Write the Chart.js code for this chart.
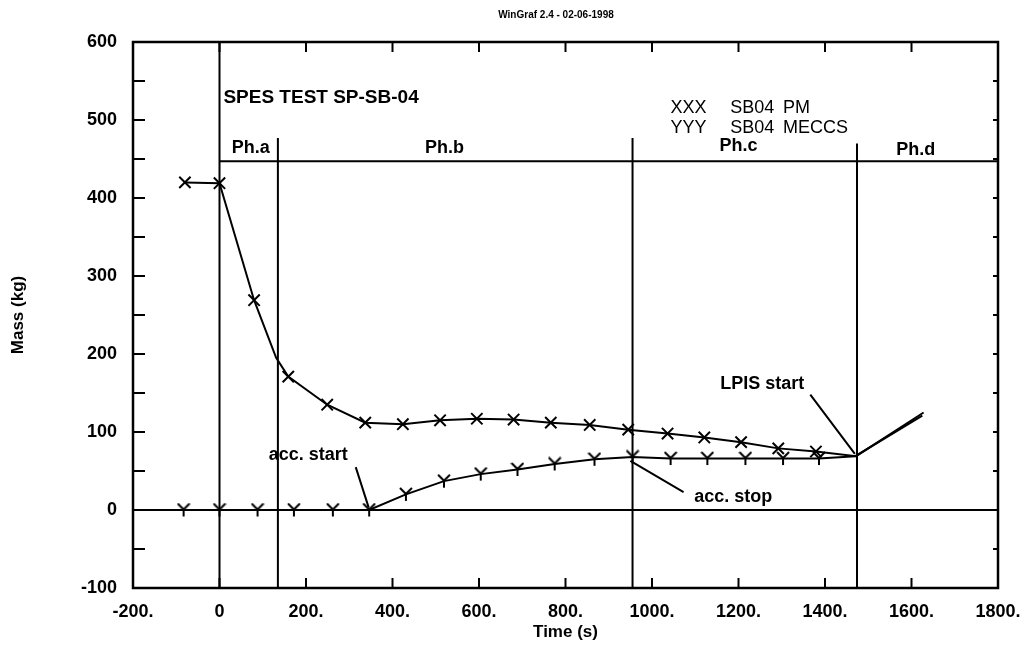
<!DOCTYPE html>
<html>
<head>
<meta charset="utf-8">
<script src="https://cdn.jsdelivr.net/npm/chart.js@4"></script>
<style>
  html, body { margin: 0; padding: 0; background: #fff; }
  #wrap { width: 1024px; height: 655px; }
</style>
</head>
<body>
<div id="wrap"><canvas id="massChart" width="1024" height="655"></canvas></div>
<script>
// SB04 PM (X markers)
const pmTime = [-80, 0, 80, 159, 249, 337, 424, 510, 595, 680, 766, 856, 945, 1036, 1121, 1206, 1292, 1379];
const pmMass = [420, 419, 269, 171, 135, 112, 110, 115, 117, 116, 112, 109, 103, 98, 93, 87, 79, 75];
// extra curve points of the PM line without marker
const pmKnotTime = [131, 1472, 1628];
const pmKnotMass = [195, 69, 125];

// SB04 MECCS (Y markers)
const meccsTime = [-83, 0, 88, 172, 262, 346, 431, 519, 604, 689, 775, 867, 955, 1043, 1128, 1216, 1303, 1386];
const meccsMass = [0, 0, 0, 0, 0, 0, 20, 37, 46, 52, 59, 65, 68, 66, 66, 66, 66, 66];
const meccsKnotTime = [1470, 1625];
const meccsKnotMass = [69, 121];

// axes
const xTicks = [-200, 0, 200, 400, 600, 800, 1000, 1200, 1400, 1600, 1800];
const yTicks = [-100, 0, 100, 200, 300, 400, 500, 600];

// phases
const phaseBounds = [0, 135, 955, 1474];
const phaseTopMass = [600, 477, 477, 470];
const phaseBarMass = 447;
const phaseNames = ['Ph.a', 'Ph.b', 'Ph.c', 'Ph.d'];
const phaseNameTime = [72, 520, 1200, 1610];
const phaseNameMass = [464, 464, 467, 461];

// annotations with leader lines
const noteText = ['acc. start', 'acc. stop', 'LPIS start'];
const noteTime = [205, 1188, 1255];
const noteMass = [70, 17, 161];
const leaderFrom = [[315, 55], [1073, 23], [1366, 148]];
const leaderTo = [[345, 3], [950, 63], [1469, 72]];

function toPoints(ts, ms) {
    return ts.map((t, i) => ({ x: t, y: ms[i] }));
}
function merged(ts, ms, kt, km) {
    return toPoints(ts.concat(kt), ms.concat(km)).sort((a, b) => a.x - b.x);
}

function makeYMarker() {
    const c = document.createElement('canvas');
    c.width = 14; c.height = 15;
    const g = c.getContext('2d');
    g.strokeStyle = '#000';
    g.lineWidth = 2;
    g.beginPath();
    g.moveTo(1, 1); g.lineTo(7, 7); g.lineTo(13, 1);
    g.moveTo(7, 7); g.lineTo(7, 14);
    g.stroke();
    return c;
}

const FONT = "'Liberation Sans', Arial, sans-serif";

const decorPlugin = {
    id: 'decor',
    beforeDatasetsDraw(chart) {
        const { ctx, chartArea: a, scales: { x, y } } = chart;
        ctx.save();
        ctx.strokeStyle = '#000';
        ctx.lineCap = 'butt';

        // zero line
        ctx.lineWidth = 2;
        ctx.beginPath();
        ctx.moveTo(a.left, y.getPixelForValue(0));
        ctx.lineTo(a.right, y.getPixelForValue(0));
        ctx.stroke();

        // phase bar + boundaries
        ctx.beginPath();
        ctx.moveTo(x.getPixelForValue(phaseBounds[0]), y.getPixelForValue(phaseBarMass));
        ctx.lineTo(a.right, y.getPixelForValue(phaseBarMass));
        phaseBounds.forEach((t, i) => {
            const px = x.getPixelForValue(t);
            ctx.moveTo(px, y.getPixelForValue(phaseTopMass[i]));
            ctx.lineTo(px, a.bottom);
        });
        ctx.stroke();

        // leader lines
        ctx.beginPath();
        leaderFrom.forEach((p, i) => {
            ctx.moveTo(x.getPixelForValue(p[0]), y.getPixelForValue(p[1]));
            ctx.lineTo(x.getPixelForValue(leaderTo[i][0]), y.getPixelForValue(leaderTo[i][1]));
        });
        ctx.stroke();
        ctx.restore();
    },
    afterDraw(chart) {
        const { ctx, chartArea: a, scales: { x, y } } = chart;
        ctx.save();
        ctx.strokeStyle = '#000';
        ctx.fillStyle = '#000';

        // frame
        ctx.lineWidth = 2.5;
        ctx.strokeRect(a.left, a.top, a.right - a.left, a.bottom - a.top);

        // inward ticks
        ctx.lineWidth = 2;
        ctx.beginPath();
        for (let v = y.min + 50; v < y.max; v += 50) {
            const py = y.getPixelForValue(v);
            ctx.moveTo(a.left, py); ctx.lineTo(a.left + 12, py);
            ctx.moveTo(a.right, py); ctx.lineTo(a.right - 5, py);
        }
        for (let t = x.min + 200; t < x.max; t += 200) {
            const px = x.getPixelForValue(t);
            ctx.moveTo(px, a.top); ctx.lineTo(px, a.top + 10);
            ctx.moveTo(px, a.bottom); ctx.lineTo(px, a.bottom - 10);
        }
        ctx.stroke();

        // header
        ctx.textAlign = 'center';
        ctx.textBaseline = 'middle';
        ctx.font = 'bold 10px ' + FONT;
        ctx.fillText('WinGraf 2.4 - 02-06-1998', 556, 15);

        // phase names
        ctx.font = 'bold 18px ' + FONT;
        phaseNames.forEach((n, i) => {
            ctx.fillText(n, x.getPixelForValue(phaseNameTime[i]), y.getPixelForValue(phaseNameMass[i]));
        });

        // notes
        noteText.forEach((n, i) => {
            ctx.fillText(n, x.getPixelForValue(noteTime[i]), y.getPixelForValue(noteMass[i]));
        });

        // test title
        ctx.textAlign = 'left';
        ctx.font = 'bold 19px ' + FONT;
        ctx.fillText('SPES TEST SP-SB-04', x.getPixelForValue(9), y.getPixelForValue(529));

        // legend
        ctx.font = '18px ' + FONT;
        const rows = [['XXX', 'SB04', 'PM'], ['YYY', 'SB04', 'MECCS']];
        const colT = [1043, 1181, 1303];
        const rowM = [515, 490];
        rows.forEach((r, i) => {
            r.forEach((s, j) => {
                ctx.fillText(s, x.getPixelForValue(colT[j]), y.getPixelForValue(rowM[i]));
            });
        });
        ctx.restore();
    }
};

document.addEventListener("DOMContentLoaded", function () {
    const ctx = document.getElementById("massChart");
    const yMarker = makeYMarker();

    new Chart(ctx, {
        type: 'line',
        data: {
            datasets: [
                {
                    label: 'SB04 PM line',
                    data: merged(pmTime, pmMass, pmKnotTime, pmKnotMass),
                    borderColor: '#000',
                    borderWidth: 2,
                    pointRadius: 0,
                    tension: 0
                },
                {
                    label: 'SB04 PM',
                    data: toPoints(pmTime, pmMass),
                    showLine: false,
                    pointStyle: 'crossRot',
                    pointRadius: 8,
                    borderColor: '#000',
                    borderWidth: 2
                },
                {
                    label: 'SB04 MECCS line',
                    data: merged(meccsTime, meccsMass, meccsKnotTime, meccsKnotMass),
                    borderColor: '#000',
                    borderWidth: 2,
                    pointRadius: 0,
                    tension: 0
                },
                {
                    label: 'SB04 MECCS',
                    data: toPoints(meccsTime, meccsMass),
                    showLine: false,
                    pointStyle: yMarker,
                    pointRadius: 7,
                    borderColor: '#000'
                }
            ]
        },
        options: {
            responsive: false,
            animation: false,
            layout: { padding: { top: 42, right: 26, left: 0, bottom: 0 } },
            plugins: {
                legend: { display: false },
                tooltip: { enabled: false },
                title: { display: false }
            },
            scales: {
                x: {
                    type: 'linear',
                    min: -200,
                    max: 1800,
                    afterBuildTicks: s => { s.ticks = xTicks.map(v => ({ value: v })); },
                    afterFit: s => { s.height = 67; s.paddingLeft = 0; s.paddingRight = 0; },
                    grid: { display: false, drawTicks: false },
                    border: { display: false },
                    ticks: {
                        autoSkip: false,
                        maxRotation: 0,
                        padding: 13,
                        color: '#000',
                        font: { family: FONT, size: 18, weight: 'bold' },
                        callback: v => (v === 0 ? '0' : v + '.')
                    },
                    title: {
                        display: true,
                        text: 'Time (s)',
                        color: '#000',
                        font: { family: FONT, size: 17, weight: 'bold' },
                        padding: { top: 0, bottom: 12 }
                    }
                },
                y: {
                    type: 'linear',
                    min: -100,
                    max: 600,
                    afterBuildTicks: s => { s.ticks = yTicks.map(v => ({ value: v })); },
                    afterFit: s => { s.width = 133; s.paddingTop = 0; s.paddingBottom = 0; },
                    grid: { display: false, drawTicks: false },
                    border: { display: false },
                    ticks: {
                        padding: 16,
                        color: '#000',
                        font: { family: FONT, size: 18, weight: 'bold' },
                        callback: v => String(v)
                    },
                    title: {
                        display: true,
                        text: 'Mass (kg)',
                        color: '#000',
                        font: { family: FONT, size: 17, weight: 'bold' },
                        padding: { top: 8, bottom: 0 }
                    }
                }
            }
        },
        plugins: [decorPlugin]
    });
});
</script>
</body>
</html>
